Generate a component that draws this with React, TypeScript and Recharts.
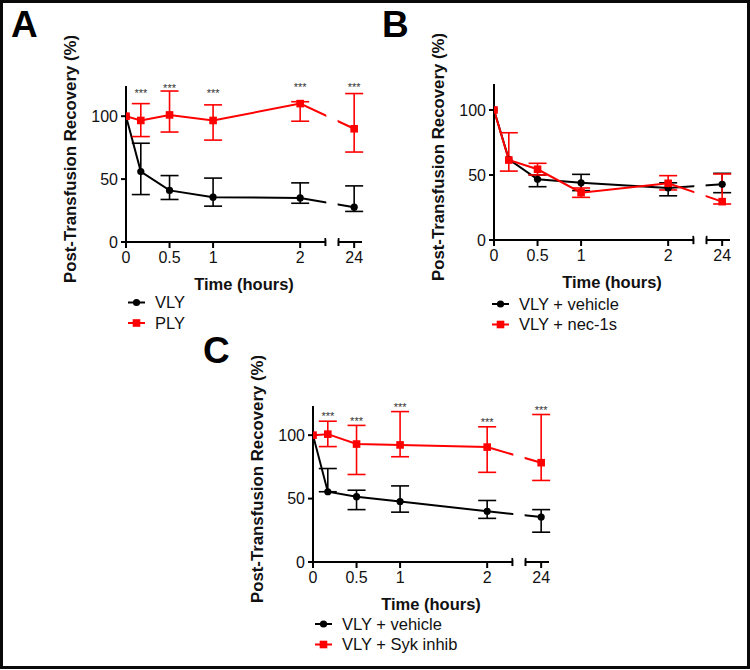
import React from 'react';
import {
  ComposedChart,
  Line,
  XAxis,
  YAxis,
  ErrorBar,
  ReferenceLine,
  ReferenceArea,
  Scatter,
} from 'recharts';

const FONT = '"Liberation Sans", Arial, Helvetica, sans-serif';
const RED = '#ff0000';
const BLACK = '#000000';

// ---------- data ----------
const times = [0, 0.17, 0.5, 1, 2, 24];
const starTimes = [0.17, 0.5, 1, 2, 24];
const xTickTimes = [0, 0.5, 1, 2, 24];
const yTicks = [0, 50, 100];

// Panel A
const vlyA = [100, 56, 41, 35.6, 35, 27.7];
const vlyALow = [100, 37.7, 33.8, 28.5, 30.8, 24.3];
const vlyAHigh = [100, 78.5, 52.8, 50.8, 47, 44.6];
const plyA = [100, 96.6, 101, 96.6, 110, 90];
const plyALow = [100, 83.8, 87.4, 81, 96, 71.5];
const plyAHigh = [100, 110, 120, 109, 111.5, 118];
const starsA = [119, 123.6, 119, 124, 124];

// Panel B
const vehB = [100, 62, 46.7, 44, 40, 42.8];
const vehBLow = [100, 62, 41, 38, 34, 36.4];
const vehBHigh = [100, 62, 50, 50.5, 44, 51.3];
const necB = [100, 61.5, 54.4, 36.4, 43.6, 29.5];
const necBLow = [100, 53, 50, 32.8, 38.5, 27.7];
const necBHigh = [100, 82.5, 59, 40, 49.5, 50.8];

// Panel C
const vehC = [100, 55.4, 51.5, 47.7, 40, 35.5];
const vehCLow = [100, 55.4, 41.3, 39.3, 34.4, 23.5];
const vehCHigh = [100, 73.7, 56.6, 60, 48.5, 41.3];
const sykC = [100, 100.8, 93, 92.3, 90.6, 78.3];
const sykCLow = [100, 91, 69, 83, 70.7, 64.3];
const sykCHigh = [100, 111, 107.7, 118.6, 106.6, 116.3];
const starsC = [116, 112, 123, 111, 121];

// ---------- broken axis geometry ----------
const BREAK_START = 2.29;
const BREAK_END = 2.44;
const AXIS_END = 2.71;
const POS_24 = 2.62;
const axisPos = (t: number) => (t === 24 ? POS_24 : t);
const tickLabel = (v: number) => (Math.abs(v - POS_24) < 1e-6 ? '24' : String(v));

const buildRows = (vals: number[], lo: number[], hi: number[]) =>
  times.map((t, i) => ({
    x: axisPos(t),
    v: vals[i],
    e: lo[i] === vals[i] && hi[i] === vals[i] ? undefined : [vals[i] - lo[i], hi[i] - vals[i]],
  }));

const buildStars = (vals: number[]) => starTimes.map((t, i) => ({ x: axisPos(t), v: vals[i] }));

// ---------- layout ----------
const PLOT_W = 236;
const PLOT_H = 156;
const M_TOP = 50;
const Y_W = 70;
const M_RIGHT = 10;
const X_H = 54;
const CH_W = Y_W + PLOT_W + M_RIGHT;
const CH_H = M_TOP + PLOT_H + X_H;

const BlackDot = (p: any) =>
  p.cx == null ? null : <circle key={`b${p.index}`} cx={p.cx} cy={p.cy} r={3.6} fill={BLACK} />;
const RedDot = (p: any) =>
  p.cx == null ? null : (
    <rect key={`r${p.index}`} x={p.cx - 3.8} y={p.cy - 3.8} width={7.6} height={7.6} fill={RED} />
  );
const StarShape = (p: any) => (
  <text x={p.cx} y={p.cy + 5} textAnchor="middle" fontSize={11} fontFamily={FONT} fill="#333">
    ***
  </text>
);

type PanelProps = {
  plotX: number;
  plotY: number;
  black: any[];
  red: any[];
  stars?: any[];
};

const Panel = ({ plotX, plotY, black, red, stars }: PanelProps) => {
  const left = plotX - Y_W;
  const top = plotY - M_TOP;
  const yLabelX = Y_W - 56;
  const yLabelY = M_TOP + PLOT_H / 2 - 5;
  return (
    <div style={{ position: 'absolute', left, top, width: CH_W, height: CH_H }}>
      <ComposedChart
        width={CH_W}
        height={CH_H}
        margin={{ top: M_TOP, right: M_RIGHT, bottom: 0, left: 0 }}
        style={{ overflow: 'visible' }}
      >
        <XAxis
          type="number"
          dataKey="x"
          domain={[0, AXIS_END]}
          allowDataOverflow
          ticks={xTickTimes.map(axisPos)}
          interval={0}
          tickFormatter={tickLabel}
          axisLine={false}
          tickLine={{ stroke: BLACK, strokeWidth: 2 }}
          tickSize={6}
          tickMargin={4}
          height={X_H}
          tick={{ fill: '#111', fontSize: 16, fontFamily: FONT }}
          label={{
            content: () => (
              <text
                x={Y_W + PLOT_W / 2}
                y={M_TOP + PLOT_H + 48}
                textAnchor="middle"
                fontSize={16.5}
                fontWeight="bold"
                fontFamily={FONT}
                fill="#111"
              >
                Time (hours)
              </text>
            ),
          }}
        />
        <YAxis
          type="number"
          domain={[0, 120]}
          ticks={yTicks}
          width={Y_W}
          axisLine={{ stroke: BLACK, strokeWidth: 2 }}
          tickLine={{ stroke: BLACK, strokeWidth: 2 }}
          tickSize={5}
          tickMargin={3}
          tick={{ fill: '#111', fontSize: 16, fontFamily: FONT }}
          label={{
            content: () => (
              <text
                x={yLabelX}
                y={yLabelY}
                transform={`rotate(-90 ${yLabelX} ${yLabelY})`}
                textAnchor="middle"
                dominantBaseline="central"
                fontSize={16.8}
                fontWeight="bold"
                fontFamily={FONT}
                fill="#111"
              >
                Post-Transfusion Recovery (%)
              </text>
            ),
          }}
        />
        <Line
          data={black}
          dataKey="v"
          stroke={BLACK}
          strokeWidth={2}
          dot={BlackDot}
          activeDot={false}
          isAnimationActive={false}
        >
          <ErrorBar dataKey="e" stroke={BLACK} strokeWidth={1.6} width={9} />
        </Line>
        <Line
          data={red}
          dataKey="v"
          stroke={RED}
          strokeWidth={2}
          dot={RedDot}
          activeDot={false}
          isAnimationActive={false}
        >
          <ErrorBar dataKey="e" stroke={RED} strokeWidth={1.6} width={9} />
        </Line>
        {stars && (
          <Scatter data={stars} dataKey="v" shape={StarShape} isAnimationActive={false} />
        )}
        <ReferenceArea
          x1={BREAK_START + 0.01}
          x2={BREAK_END - 0.01}
          y1={2}
          y2={126}
          fill="#ffffff"
          fillOpacity={1}
          stroke="none"
          ifOverflow="visible"
          zIndex={1500}
        />
        <ReferenceLine
          segment={[{ x: 0, y: 0 }, { x: BREAK_START, y: 0 }]}
          stroke={BLACK}
          strokeWidth={2}
          ifOverflow="visible"
        />
        <ReferenceLine
          segment={[{ x: BREAK_END, y: 0 }, { x: AXIS_END, y: 0 }]}
          stroke={BLACK}
          strokeWidth={2}
          ifOverflow="visible"
        />
        <ReferenceLine
          segment={[{ x: BREAK_START, y: -3.2 }, { x: BREAK_START, y: 3.2 }]}
          stroke={BLACK}
          strokeWidth={2}
          ifOverflow="visible"
        />
        <ReferenceLine
          segment={[{ x: BREAK_END, y: -3.2 }, { x: BREAK_END, y: 3.2 }]}
          stroke={BLACK}
          strokeWidth={2}
          ifOverflow="visible"
        />
      </ComposedChart>
    </div>
  );
};

type LegendItem = { label: string; color: string; square: boolean };

const LegendBlock = ({ x, y, items }: { x: number; y: number; items: LegendItem[] }) => (
  <g>
    {items.map((it, i) => {
      const cy = y + i * 20.5;
      return (
        <g key={it.label}>
          <line x1={x} y1={cy} x2={x + 17} y2={cy} stroke={it.color} strokeWidth={2} />
          {it.square ? (
            <rect x={x + 8.5 - 3.8} y={cy - 3.8} width={7.6} height={7.6} fill={it.color} />
          ) : (
            <circle cx={x + 8.5} cy={cy} r={3.6} fill={it.color} />
          )}
          <text x={x + 27} y={cy + 5.8} fontSize={16.5} fontFamily={FONT} fill="#111">
            {it.label}
          </text>
        </g>
      );
    })}
  </g>
);

export default function App() {
  return (
    <div
      style={{
        position: 'absolute',
        left: 0,
        top: 0,
        width: 750,
        height: 670,
        background: '#fff',
        fontFamily: FONT,
      }}
    >
      <Panel
        plotX={126}
        plotY={86}
        black={buildRows(vlyA, vlyALow, vlyAHigh)}
        red={buildRows(plyA, plyALow, plyAHigh)}
        stars={buildStars(starsA)}
      />
      <Panel
        plotX={494}
        plotY={84}
        black={buildRows(vehB, vehBLow, vehBHigh)}
        red={buildRows(necB, necBLow, necBHigh)}
      />
      <Panel
        plotX={313}
        plotY={406}
        black={buildRows(vehC, vehCLow, vehCHigh)}
        red={buildRows(sykC, sykCLow, sykCHigh)}
        stars={buildStars(starsC)}
      />
      <svg
        width={750}
        height={670}
        style={{ position: 'absolute', left: 0, top: 0, pointerEvents: 'none' }}
      >
        <text x={11} y={37} fontSize={37} fontWeight="bold" fontFamily={FONT} fill="#000">
          A
        </text>
        <text x={382} y={37} fontSize={37} fontWeight="bold" fontFamily={FONT} fill="#000">
          B
        </text>
        <text x={203} y={363} fontSize={37} fontWeight="bold" fontFamily={FONT} fill="#000">
          C
        </text>
        <LegendBlock
          x={128}
          y={302.5}
          items={[
            { label: 'VLY', color: BLACK, square: false },
            { label: 'PLY', color: RED, square: true },
          ]}
        />
        <LegendBlock
          x={492}
          y={304}
          items={[
            { label: 'VLY + vehicle', color: BLACK, square: false },
            { label: 'VLY + nec-1s', color: RED, square: true },
          ]}
        />
        <LegendBlock
          x={315}
          y={624}
          items={[
            { label: 'VLY + vehicle', color: BLACK, square: false },
            { label: 'VLY + Syk inhib', color: RED, square: true },
          ]}
        />
      </svg>
      <div
        style={{
          position: 'absolute',
          left: 0,
          top: 0,
          width: 750,
          height: 669,
          boxSizing: 'border-box',
          border: '3px solid #0a0a0a',
          pointerEvents: 'none',
        }}
      />
    </div>
  );
}
